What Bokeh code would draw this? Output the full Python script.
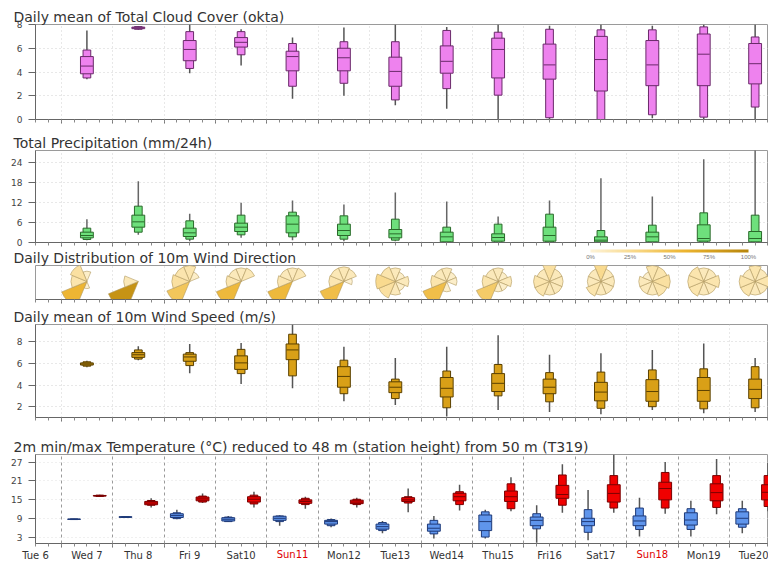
import numpy as np
from bokeh.plotting import figure
from bokeh.layouts import column
from bokeh.models import (Range1d, FixedTicker, ColumnDataSource, ColorBar, LinearAxis,
                          LinearColorMapper, NumeralTickFormatter)
from bokeh.embed import file_html
from bokeh.resources import INLINE

# ---------------- data ----------------
day_index = [1, 2, 3, 4, 5, 6, 7, 8, 9, 10, 11, 12, 13, 14]
axis_days = ["Tue 6", "Wed 7", "Thu 8", "Fri 9", "Sat10", "Sun11", "Mon12", "Tue13",
             "Wed14", "Thu15", "Fri16", "Sat17", "Sun18", "Mon19", "Tue20"]
sunday_days = ["Sun11", "Sun18"]

cloud_min = [3.4, 7.55, 3.9, 4.55, 1.75, 2.0, 1.2, 0.9, 0.0, 0.0, 0.0, 0.1, 0.0, 0.0]
cloud_p10 = [3.5, 7.6, 4.3, 5.45, 2.8, 3.05, 1.65, 2.6, 2.05, 0.15, 0.0, 0.4, 0.2, 1.05]
cloud_p25 = [3.85, 7.65, 4.95, 6.1, 4.1, 4.1, 2.8, 3.9, 3.5, 3.4, 2.4, 2.85, 2.85, 3.0]
cloud_med = [4.5, 7.72, 5.9, 6.5, 5.3, 5.2, 4.05, 4.9, 5.9, 4.6, 5.05, 4.6, 5.5, 4.7]
cloud_p75 = [5.3, 7.78, 6.65, 6.9, 5.75, 6.0, 5.25, 6.2, 6.85, 6.35, 7.0, 6.65, 7.2, 6.4]
cloud_p90 = [5.85, 7.82, 7.4, 7.4, 6.4, 6.55, 6.55, 7.5, 7.35, 7.6, 7.55, 7.55, 7.8, 6.95]
cloud_max = [7.5, 7.85, 8.0, 7.6, 6.9, 7.75, 8.0, 7.8, 8.0, 7.9, 8.0, 7.9, 8.0, 8.0]

prec_min = [0.7, 2.3, 0.4, 1.4, 0.7, 0.4, 0.4, 0.0, 0.0, 0.0, 0.0, 0.0, 0.0, 0.0]
prec_p10 = [0.9, 3.1, 1.0, 2.3, 1.7, 1.0, 0.7, 0.1, 0.0, 0.1, 0.0, 0.0, 0.0, 0.0]
prec_p25 = [1.4, 4.6, 1.8, 3.3, 2.9, 2.1, 1.4, 0.2, 0.4, 0.4, 0.2, 0.2, 0.4, 0.2]
prec_med = [2.1, 6.2, 2.9, 4.6, 5.5, 3.6, 2.6, 1.7, 1.5, 2.1, 0.7, 1.7, 1.2, 1.2]
prec_p75 = [3.1, 8.2, 4.3, 5.8, 8.0, 5.5, 3.9, 3.1, 2.6, 4.6, 1.7, 3.1, 5.3, 3.3]
prec_p90 = [4.3, 10.9, 6.5, 8.2, 9.1, 8.0, 7.0, 4.6, 5.5, 8.5, 3.6, 5.2, 8.9, 8.2]
prec_max = [7.0, 18.4, 8.6, 11.9, 12.6, 11.4, 15.0, 12.3, 7.8, 12.6, 19.3, 13.8, 25.0, 28.0]

# wind direction frequencies per day: N, NE, E, SE, S, SW, W, NW
wind_dirs = [0, 45, 90, 135, 180, 225, 270, 315]
wind_freq = [
    [0.05, 0.0, 0.0, 0.0, 0.02, 0.58, 0.15, 0.20],
    [0.0, 0.0, 0.0, 0.0, 0.0, 0.88, 0.12, 0.0],
    [0.15, 0.05, 0.0, 0.0, 0.0, 0.45, 0.20, 0.15],
    [0.10, 0.12, 0.0, 0.0, 0.0, 0.55, 0.13, 0.10],
    [0.10, 0.12, 0.0, 0.0, 0.0, 0.55, 0.13, 0.10],
    [0.12, 0.10, 0.03, 0.0, 0.0, 0.50, 0.13, 0.12],
    [0.10, 0.05, 0.10, 0.05, 0.10, 0.20, 0.25, 0.15],
    [0.10, 0.05, 0.05, 0.0, 0.05, 0.50, 0.15, 0.10],
    [0.10, 0.05, 0.10, 0.05, 0.05, 0.40, 0.15, 0.10],
    [0.20, 0.10, 0.10, 0.10, 0.10, 0.15, 0.15, 0.10],
    [0.25, 0.10, 0.10, 0.10, 0.10, 0.15, 0.10, 0.10],
    [0.15, 0.15, 0.20, 0.15, 0.10, 0.10, 0.10, 0.05],
    [0.10, 0.10, 0.15, 0.10, 0.10, 0.15, 0.15, 0.15],
    [0.15, 0.10, 0.15, 0.10, 0.10, 0.15, 0.15, 0.10],
]
legend_ticks = [0, 0.25, 0.5, 0.75, 1.0]

ws_min = [5.65, 6.3, 5.1, 4.1, 3.7, 2.5, 2.15, 1.1, 1.7, 1.5, 1.3, 1.7, 1.4, 1.5]
ws_p10 = [5.75, 6.4, 5.8, 5.06, 4.85, 3.2, 2.75, 1.9, 3.0, 2.45, 1.85, 2.0, 1.8, 1.9]
ws_p25 = [5.85, 6.56, 6.2, 5.45, 6.35, 3.8, 3.3, 2.9, 3.4, 3.2, 2.54, 2.5, 2.5, 2.75]
ws_med = [5.95, 6.8, 6.6, 6.05, 7.25, 4.8, 3.8, 3.7, 4.16, 3.8, 3.35, 3.4, 3.5, 3.6]
ws_p75 = [6.05, 7.0, 6.86, 6.7, 7.8, 5.7, 4.3, 4.7, 5.06, 4.55, 4.25, 4.5, 4.7, 4.55]
ws_p90 = [6.15, 7.25, 7.0, 7.3, 8.7, 6.3, 4.55, 5.3, 5.9, 5.15, 5.2, 5.4, 5.5, 5.7]
ws_max = [6.25, 7.6, 7.8, 7.9, 9.6, 7.55, 6.5, 7.55, 8.6, 6.8, 6.95, 7.25, 7.85, 6.5]

tmin_min = [8.7, 9.35, 8.85, 8.0, 6.8, 6.3, 4.4, 2.7, 2.7, 1.4, 2.2, 3.4, 3.4, 4.4]
tmin_p10 = [8.75, 9.4, 9.05, 8.1, 8.1, 6.8, 5.25, 4.2, 3.2, 5.8, 4.7, 5.6, 5.6, 6.3]
tmin_p25 = [8.8, 9.45, 9.4, 8.3, 8.5, 7.3, 5.7, 5.05, 5.25, 6.8, 6.8, 6.8, 7.0, 7.3]
tmin_med = [8.85, 9.55, 10.0, 8.85, 9.15, 8.1, 6.5, 6.0, 8.1, 8.5, 8.1, 8.3, 8.6, 9.15]
tmin_p75 = [8.9, 9.65, 10.6, 9.35, 9.8, 8.5, 7.3, 7.3, 10.2, 9.55, 9.15, 9.9, 10.9, 11.2]
tmin_p90 = [8.95, 9.7, 10.9, 9.55, 9.9, 8.75, 7.8, 8.5, 11.2, 10.6, 11.9, 12.4, 12.2, 12.2]
tmin_max = [9.0, 9.75, 11.9, 9.9, 10.1, 9.05, 8.3, 9.9, 11.9, 13.3, 18.1, 15.7, 14.7, 14.7]

tmax_min = [16.0, 12.6, 14.0, 12.6, 12.2, 12.6, 11.1, 11.6, 11.4, 10.9, 10.9, 10.6, 10.4, 11.4]
tmax_p10 = [16.1, 13.3, 14.3, 13.7, 13.5, 13.5, 14.0, 13.5, 12.2, 13.3, 12.4, 12.4, 12.6, 12.9]
tmax_p25 = [16.2, 13.45, 14.7, 14.3, 13.9, 13.8, 14.5, 14.7, 14.5, 15.5, 14.3, 15.0, 14.7, 15.0]
tmax_med = [16.3, 14.0, 15.3, 15.2, 14.5, 14.3, 15.0, 16.0, 16.0, 16.7, 17.05, 18.6, 17.3, 17.4]
tmax_p75 = [16.4, 14.5, 15.9, 16.0, 15.0, 14.9, 15.7, 17.1, 17.8, 19.6, 19.8, 20.6, 20.1, 19.8]
tmax_p90 = [16.5, 14.8, 16.2, 16.5, 15.5, 15.2, 16.0, 17.6, 20.1, 22.9, 22.7, 23.7, 22.7, 22.7]
tmax_max = [16.6, 15.5, 17.05, 17.6, 16.0, 15.7, 18.6, 19.8, 22.2, 26.3, 29.4, 27.0, 28.0, 26.8]

# ---------------- styling / helpers ----------------
FONT = "DejaVu Sans"
X0, X1 = 0.5, 14.76
W = 768
LEFT = 35
day_ticks = list(range(1, 15))
six_hour = [d / 4 for d in range(2, 60)]


def make_fig(title, height, top, bottom, yr, yticks, grid_dash="1 3", grid_color="#d0d0d0"):
    p = figure(width=W, height=height, x_range=Range1d(X0, X1), y_range=Range1d(*yr),
               output_backend="svg", toolbar_location=None,
               min_border_left=LEFT, min_border_right=0,
               min_border_top=top, min_border_bottom=bottom)
    p.title.text = title
    p.title.text_font = FONT
    p.title.text_font_size = "14px"
    p.title.text_font_style = "normal"
    p.title.text_color = "#333333"
    p.title.standoff = 0
    p.title.offset = -22
    p.outline_line_color = "#9a9a9a"
    p.background_fill_color = "white"
    p.border_fill_color = "white"
    xa = p.xaxis[0]
    xa.ticker = FixedTicker(ticks=day_ticks, minor_ticks=six_hour)
    xa.major_label_text_font_size = "1px"
    xa.major_label_text_color = None
    xa.major_label_standoff = 0
    xa.major_tick_out = 4
    xa.major_tick_in = 0
    xa.minor_tick_out = 3
    xa.minor_tick_in = 0
    xa.axis_line_color = "#666666"
    xa.major_tick_line_color = "#666666"
    xa.minor_tick_line_color = "#888888"
    ya = p.yaxis[0]
    if yticks:
        ya.ticker = FixedTicker(ticks=yticks)
        ya.major_tick_out = 7
        ya.major_tick_in = 0
        ya.minor_tick_line_color = None
        ya.major_label_text_font = FONT
        ya.major_label_text_font_size = "9px"
        ya.major_label_text_color = "#444444"
        ya.major_label_standoff = 6
        ya.axis_line_color = "#666666"
        ya.major_tick_line_color = "#666666"
        p.ygrid.ticker = FixedTicker(ticks=yticks)
        p.ygrid.grid_line_color = grid_color
        p.ygrid.grid_line_dash = "1 3"
    else:
        ya.visible = False
        p.ygrid.visible = False
    p.xgrid.ticker = FixedTicker(ticks=day_ticks)
    p.xgrid.grid_line_color = grid_color
    p.xgrid.grid_line_dash = grid_dash
    return p


def boxes(p, xs, mn, q10, q25, med, q75, q90, mx, fill, line, whisk, wide=0.25, narrow=0.15):
    src = ColumnDataSource(dict(x=xs, mn=mn, q10=q10, q25=q25, med=med, q75=q75, q90=q90, mx=mx))
    p.segment(x0="x", y0="mn", x1="x", y1="mx", source=src, line_color=whisk, line_width=1.5)
    p.vbar(x="x", width=narrow, bottom="q10", top="q90", source=src,
           fill_color=fill, line_color=line, line_width=1)
    p.vbar(x="x", width=wide, bottom="q25", top="q75", source=src,
           fill_color=fill, line_color=line, line_width=1)
    p.scatter(x="x", y="med", source=src, marker="dash", size=12, line_color=line, line_width=1)


def label_axis(ticks, texts, color, standoff):
    ax = LinearAxis(ticker=FixedTicker(ticks=ticks),
                    major_label_overrides={t: s for t, s in zip(ticks, texts)},
                    major_tick_out=0, major_tick_in=0, minor_tick_out=0, minor_tick_in=0,
                    major_tick_line_color=None, minor_tick_line_color=None,
                    axis_line_color=None, major_label_standoff=standoff,
                    major_label_text_font=FONT, major_label_text_font_size="10px",
                    major_label_text_color=color)
    return ax


centers = [d + 0.5 for d in day_index]

# --- panel 1: cloud cover
p1 = make_fig("Daily mean of Total Cloud Cover (okta)", 132, 24, 13, (0, 8), [0, 2, 4, 6, 8])
boxes(p1, centers, cloud_min, cloud_p10, cloud_p25, cloud_med, cloud_p75, cloud_p90, cloud_max,
      "#ee82ee", "#6a2a6a", "#555555")

# --- panel 2: precipitation
p2 = make_fig("Total Precipitation (mm/24h)", 115, 16, 5, (0, 27.6), [0, 6, 12, 18, 24])
boxes(p2, centers, prec_min, prec_p10, prec_p25, prec_med, prec_p75, prec_p90, prec_max,
      "#6ee07c", "#2a6a2a", "#666666")

# --- panel 3: wind direction roses
p3 = make_fig("Daily Distribution of 10m Wind Direction", 59, 16, 7, (0, 1), None)
rx, ry, rr, rs, re, rf = [], [], [], [], [], []
for d, freqs in zip(day_index, wind_freq):
    for ang, f in zip(wind_dirs, freqs):
        if f <= 0:
            continue
        rx.append(d + 0.5)
        ry.append(0.53)
        rr.append(34 * f ** 0.4)
        rs.append(np.radians(90 - ang - 22.5))
        re.append(np.radians(90 - ang + 22.5))
        rf.append(f)
anchors = [(0.0, (253, 242, 214)), (0.3, (248, 214, 130)), (0.6, (236, 180, 48)), (1.0, (184, 134, 11))]
palette = []
for t in np.linspace(0, 1, 64):
    for (t0, c0), (t1, c1) in zip(anchors[:-1], anchors[1:]):
        if t0 <= t <= t1:
            u = (t - t0) / (t1 - t0)
            c = [int(round(a + (b - a) * u)) for a, b in zip(c0, c1)]
            palette.append("#%02x%02x%02x" % tuple(c))
            break
mapper = LinearColorMapper(palette=palette, low=0, high=1)
rsrc = ColumnDataSource(dict(x=rx, y=ry, r=rr, s=rs, e=re, f=rf))
p3.wedge(x="x", y="y", radius="r", radius_units="screen", start_angle="s", end_angle="e",
         source=rsrc, fill_color={"field": "f", "transform": mapper},
         line_color="#b09860", line_width=0.6)
cb = ColorBar(color_mapper=mapper, orientation="horizontal", location=(555, 37),
              width=158, height=3, padding=0, ticker=FixedTicker(ticks=legend_ticks),
              formatter=NumeralTickFormatter(format="0%"), major_label_text_font_size="6px",
              major_label_text_color="#777777", major_tick_line_color=None,
              bar_line_color=None, background_fill_alpha=0, border_line_color=None,
              label_standoff=1)
p3.add_layout(cb)

# --- panel 4: wind speed
p4 = make_fig("Daily mean of 10m Wind Speed (m/s)", 130, 16, 19, (1.0, 9.6), [2, 4, 6, 8])
boxes(p4, centers, ws_min, ws_p10, ws_p25, ws_med, ws_p75, ws_p90, ws_max,
      "#d9a017", "#5a4000", "#555555")

# --- panel 5: temperature
p5 = make_fig("2m min/max Temperature (\u00b0C) reduced to 48 m (station height) from 50 m (T319)",
              128, 16, 21, (1.15, 29.4), [3, 9, 15, 21, 27], grid_dash="3 3", grid_color="#9a9a9a")
p5.ygrid.grid_line_color = "#e0e0e0"
boxes(p5, [d + 0.25 for d in day_index], tmin_min, tmin_p10, tmin_p25, tmin_med, tmin_p75,
      tmin_p90, tmin_max, "#5f95ec", "#1f3a78", "#555555")
boxes(p5, [d + 0.75 for d in day_index], tmax_min, tmax_p10, tmax_p25, tmax_med, tmax_p75,
      tmax_p90, tmax_max, "#f00000", "#7a0000", "#555555")

# day labels at noon: weekdays in dark grey, Sundays in red (second axis pulled onto same row)
label_x = [0.5 + i for i in range(len(axis_days))]
wk = [(x, t) for x, t in zip(label_x, axis_days) if t not in sunday_days]
su = [(x, t) for x, t in zip(label_x, axis_days) if t in sunday_days]
p5.add_layout(label_axis([x for x, _ in wk], [t for _, t in wk], "#333333", 2), "below")
p5.add_layout(label_axis([x for x, _ in su], [t for _, t in su], "#e00000", -15), "below")

layout = column(p1, p2, p3, p4, p5, spacing=0)
open("out.html", "w").write(file_html(layout, INLINE))
